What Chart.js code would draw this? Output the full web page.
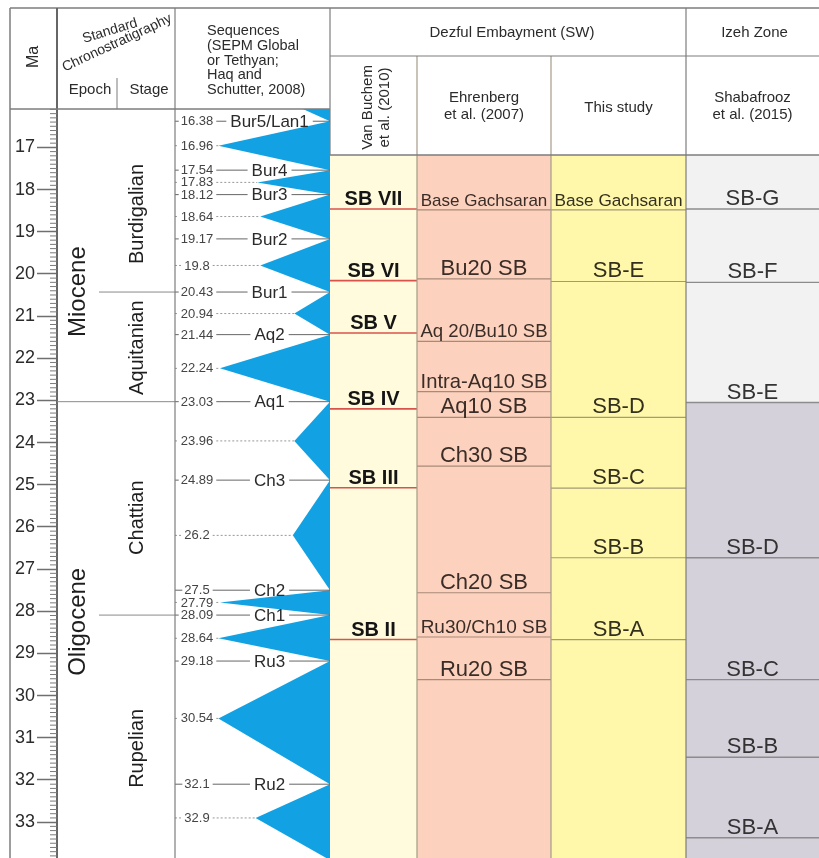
<!DOCTYPE html>
<html>
<head>
<meta charset="utf-8">
<title>Oligocene–Miocene sequence boundaries</title>
<script src="https://cdn.jsdelivr.net/npm/chart.js@4.4.1/dist/chart.umd.min.js"></script>
<style>
    html, body { margin: 0; padding: 0; background: #fff; overflow: hidden; }
    #chart { display: block; }
</style>
</head>
<body>
<canvas id="chart" width="819" height="858"></canvas>
<script>
// Age range (Ma) of the vertical axis
const maTop = 16.09;
const maBase = 33.85;
const maTicks = [17, 18, 19, 20, 21, 22, 23, 24, 25, 26, 27, 28, 29, 30, 31, 32, 33];

// Standard chronostratigraphy
const epochNames = ["Miocene", "Oligocene"];
const epochBases = [23.03, 33.9];
const epochLabelAt = [20.42, 28.25];

const stageNames = ["Burdigalian", "Aquitanian", "Chattian", "Rupelian"];
const stageBases = [20.43, 23.03, 28.09, 33.9];
const stageLabelAt = [18.58, 21.75, 25.78, 31.25];

// SEPM sequence boundaries (Haq and Schutter, 2008)
const sbAges = [16.38, 17.54, 18.12, 19.17, 20.43, 21.44, 23.03, 24.89, 27.5, 28.09, 29.18, 32.1];
const sbNames = ["Bur5/Lan1", "Bur4", "Bur3", "Bur2", "Bur1", "Aq2", "Aq1", "Ch3", "Ch2", "Ch1", "Ru3", "Ru2"];

// T-R cycles: upper boundary, maximum flooding, lower boundary, wedge amplitude (0..1)
const cycleTops = [15.6, 16.38, 17.54, 18.12, 19.17, 20.43, 21.44, 23.03, 24.89, 27.5, 28.09, 29.18, 32.1];
const cycleMfs = [16.0, 16.96, 17.83, 18.64, 19.8, 20.94, 22.24, 23.96, 26.2, 27.79, 28.64, 30.54, 32.9];
const cycleBases = [16.38, 17.54, 18.12, 19.17, 20.43, 21.44, 23.03, 24.89, 27.5, 28.09, 29.18, 32.1, 33.9];
const cycleAmplitudes = [0.23, 0.72, 0.47, 0.45, 0.45, 0.23, 0.71, 0.23, 0.24, 0.71, 0.72, 0.72, 0.48];

// Regional schemes (top of each column = 17.18 Ma)
const columnTop = 17.18;

const vanBuchemAges = [18.46, 20.16, 21.40, 23.20, 25.07, 28.67];
const vanBuchemLabels = ["SB VII", "SB VI", "SB V", "SB IV", "SB III", "SB II"];

const ehrenbergAges = [18.48, 20.12, 21.60, 22.79, 23.40, 24.56, 27.56, 28.61, 29.62];
const ehrenbergLabels = ["Base Gachsaran", "Bu20 SB", "Aq 20/Bu10 SB", "Intra-Aq10 SB", "Aq10 SB",
    "Ch30 SB", "Ch20 SB", "Ru30/Ch10 SB", "Ru20 SB"];

const thisStudyAges = [18.48, 20.18, 23.40, 25.08, 26.73, 28.67];
const thisStudyLabels = ["Base Gachsaran", "SB-E", "SB-D", "SB-C", "SB-B", "SB-A"];

const shabafroozAges = [18.46, 20.20, 23.05, 26.73, 29.62, 31.46, 33.37];
const shabafroozLabels = ["SB-G", "SB-F", "SB-E", "SB-D", "SB-C", "SB-B", "SB-A"];
const shabafroozShadeFrom = 23.05;

// column layout along x (units = px from the Ma axis)
const cols = {
    chrono: [0, 118],
    seq: [118, 273],
    vb: [273, 360],
    eh: [360, 494],
    ts: [494, 629],
    sh: [629, 762]
};
const stageLineStart = 42;

const FONT = "'Liberation Sans', Arial, Helvetica, sans-serif";
const BLUE = "#12a2e4";
const GRID = "#7d7d7d";

function polygon(points, color, order) {
    return {
        data: points,
        showLine: true,
        borderWidth: 0,
        backgroundColor: color,
        fill: "shape",
        pointRadius: 0,
        order
    };
}

function hline(x0, x1, age, color, width) {
    return {
        data: [{ x: x0, y: age }, { x: x1, y: age }],
        borderColor: color,
        borderWidth: width,
        fill: false,
        pointRadius: 0,
        order: 1
    };
}

function rect(col, top, base, color) {
    return polygon([
        { x: col[0], y: top }, { x: col[1], y: top },
        { x: col[1], y: base }, { x: col[0], y: base }
    ], color, 4);
}

const datasets = [];

// column fills
datasets.push(rect(cols.vb, columnTop, maBase, "#fffbdc"));
datasets.push(rect(cols.eh, columnTop, maBase, "#fcd2be"));
datasets.push(rect(cols.ts, columnTop, maBase, "#fff7aa"));
datasets.push(rect(cols.sh, columnTop, shabafroozShadeFrom, "#f2f2f2"));
datasets.push(rect(cols.sh, shabafroozShadeFrom, maBase, "#d5d1da"));

// blue T-R wedges, base on the right edge of the sequence column
const seqWidth = cols.seq[1] - cols.seq[0];
cycleMfs.forEach((mfs, i) => {
    datasets.push(polygon([
        { x: cols.seq[1], y: cycleTops[i] },
        { x: cols.seq[1] - cycleAmplitudes[i] * seqWidth, y: mfs },
        { x: cols.seq[1], y: cycleBases[i] }
    ], BLUE, 3));
});

// boundaries in the regional columns
vanBuchemAges.forEach(a => datasets.push(hline(cols.vb[0], cols.vb[1], a, "#d8534b", 1.6)));
ehrenbergAges.forEach(a => datasets.push(hline(cols.eh[0], cols.eh[1], a, "#a98a78", 1.2)));
thisStudyAges.forEach(a => datasets.push(hline(cols.ts[0], cols.ts[1], a, "#a39a78", 1.2)));
shabafroozAges.forEach(a => datasets.push(hline(cols.sh[0], cols.sh[1], a, "#8c8c8c", 1.4)));

// epoch and stage boundaries
stageBases.forEach(a => {
    const isEpoch = epochBases.includes(a);
    datasets.push(hline(isEpoch ? cols.chrono[0] : stageLineStart, cols.chrono[1], a, "#8a8a8a", 1));
});

function strokeLine(ctx, x0, y0, x1, y1, color, width, dash) {
    if (x1 <= x0 && y0 === y1) return;
    ctx.save();
    ctx.beginPath();
    ctx.strokeStyle = color;
    ctx.lineWidth = width;
    ctx.setLineDash(dash || []);
    ctx.moveTo(x0, y0);
    ctx.lineTo(x1, y1);
    ctx.stroke();
    ctx.restore();
}

function drawText(ctx, str, x, y, font, opts = {}) {
    ctx.save();
    ctx.font = font;
    ctx.fillStyle = opts.color || "#2b2b2b";
    ctx.textAlign = opts.align || "center";
    ctx.textBaseline = opts.baseline || "middle";
    ctx.translate(x, y);
    if (opts.angle) ctx.rotate(opts.angle);
    ctx.fillText(str, 0, 0);
    ctx.restore();
}

function fitFont(ctx, str, size, maxWidth, weight) {
    ctx.font = `${weight} ${size}px ${FONT}`;
    const w = ctx.measureText(str).width;
    const s = w > maxWidth ? size * maxWidth / w : size;
    return `${weight} ${s.toFixed(1)}px ${FONT}`;
}

const stratTable = {
    id: "stratTable",

    beforeDatasetsDraw(chart) {
        const ctx = chart.ctx;
        const { x, y } = chart.scales;
        const area = chart.chartArea;

        // minor ticks every 0.1 Ma
        for (let t = Math.ceil(maTop * 10); t <= Math.floor(maBase * 10); t++) {
            if (t % 10 === 0) continue;
            const yy = y.getPixelForValue(t / 10);
            strokeLine(ctx, area.left - 7, yy, area.left, yy, "#7a7a7a", 1);
        }

        // seq / Van Buchem border sits under the wedges
        const xs = x.getPixelForValue(cols.seq[1]);
        strokeLine(ctx, xs, 8, xs, area.bottom, GRID, 1.2);
    },

    afterDatasetsDraw(chart) {
        const ctx = chart.ctx;
        const { x, y } = chart.scales;
        const area = chart.chartArea;
        const px = v => x.getPixelForValue(v);
        const py = v => y.getPixelForValue(v);

        const headTop = 8;
        const headRow = 56;
        const headLeftBottom = area.top;
        const headRightBottom = py(columnTop);

        // chronostratigraphy labels
        epochNames.forEach((name, i) => {
            drawText(ctx, name, px(21), py(epochLabelAt[i]), `24px ${FONT}`, { angle: -Math.PI / 2, color: "#1e1e1e" });
        });
        stageNames.forEach((name, i) => {
            drawText(ctx, name, px(80), py(stageLabelAt[i]), `20px ${FONT}`, { angle: -Math.PI / 2, color: "#1e1e1e" });
        });

        // sequence boundaries and maximum flooding surfaces
        const seqL = px(cols.seq[0]);
        const seqR = px(cols.seq[1]);
        const numX = seqL + 22;
        const nameX = seqL + 0.61 * (seqR - seqL);
        const numFont = `13px ${FONT}`;
        const nameFont = `17px ${FONT}`;

        sbAges.forEach((age, i) => {
            const yy = py(age);
            const num = String(age);
            ctx.font = numFont;
            const nw = ctx.measureText(num).width;
            ctx.font = nameFont;
            const tw = ctx.measureText(sbNames[i]).width;
            strokeLine(ctx, seqL, yy, numX - nw / 2 - 2, yy, "#666", 1);
            drawText(ctx, num, numX, yy + 0.5, numFont, { color: "#444" });
            strokeLine(ctx, numX + nw / 2 + 3, yy, nameX - tw / 2 - 4, yy, "#666", 1);
            drawText(ctx, sbNames[i], nameX, yy + 1, nameFont, { color: "#2b2b2b" });
            strokeLine(ctx, nameX + tw / 2 + 4, yy, seqR, yy, "#666", 1);
        });

        cycleMfs.forEach((age, i) => {
            if (age < maTop || age > maBase) return;
            const yy = py(age);
            const num = String(age);
            ctx.font = numFont;
            const nw = ctx.measureText(num).width;
            const apex = px(cols.seq[1] - cycleAmplitudes[i] * seqWidth);
            strokeLine(ctx, seqL, yy, numX - nw / 2 - 2, yy, "#999", 1, [2, 2]);
            drawText(ctx, num, numX, yy + 0.5, numFont, { color: "#444" });
            strokeLine(ctx, numX + nw / 2 + 3, yy, apex, yy, "#999", 1, [2, 2]);
        });

        // labels in the regional columns, sitting on their boundary
        const columnLabels = (col, ages, labels, size, weight, color) => {
            const cx = (px(col[0]) + px(col[1])) / 2;
            const maxW = px(col[1]) - px(col[0]) - 7;
            ages.forEach((age, i) => {
                const font = fitFont(ctx, labels[i], size, maxW, weight);
                drawText(ctx, labels[i], cx, py(age) - 4, font, { baseline: "alphabetic", color });
            });
        };
        columnLabels(cols.vb, vanBuchemAges, vanBuchemLabels, 20, "bold", "#151515");
        columnLabels(cols.eh, ehrenbergAges, ehrenbergLabels, 22, "normal", "#3a2c26");
        columnLabels(cols.ts, thisStudyAges, thisStudyLabels, 22, "normal", "#33301f");
        columnLabels(cols.sh, shabafroozAges, shabafroozLabels, 22, "normal", "#333");

        // table frame
        const right = chart.width;
        const x57 = area.left;
        const x175 = px(cols.seq[0]);
        const x330 = px(cols.seq[1]);
        const x417 = px(cols.eh[0]);
        const x551 = px(cols.ts[0]);
        const x686 = px(cols.sh[0]);

        strokeLine(ctx, 10, headTop, right, headTop, GRID, 1.5);
        strokeLine(ctx, 10, headTop, 10, area.bottom, GRID, 1.5);
        strokeLine(ctx, x57, headTop, x57, headLeftBottom, "#666", 2);
        strokeLine(ctx, x175, headTop, x175, area.bottom, GRID, 1.2);
        strokeLine(ctx, x417, headRow, x417, area.bottom, "#a39c86", 1.2);
        strokeLine(ctx, x551, headRow, x551, area.bottom, "#a39c86", 1.2);
        strokeLine(ctx, x686, headTop, x686, area.bottom, GRID, 1.2);
        strokeLine(ctx, x330, headRow, right, headRow, GRID, 1.2);
        strokeLine(ctx, 10, headLeftBottom, x330, headLeftBottom, GRID, 1.5);
        strokeLine(ctx, x330, headRightBottom, right, headRightBottom, GRID, 1.5);
        strokeLine(ctx, px(60), 78, px(60), headLeftBottom, GRID, 1);

        // header text
        const hf = `15px ${FONT}`;
        drawText(ctx, "Ma", (10 + x57) / 2, 57, `16px ${FONT}`, { angle: -Math.PI / 2 });
        drawText(ctx, "Standard", x57 + 53, 31, `14px ${FONT}`, { angle: -17 * Math.PI / 180 });
        drawText(ctx, "Chronostratigraphy", x57 + 60, 43, `14px ${FONT}`, { angle: -25 * Math.PI / 180 });
        drawText(ctx, "Epoch", x57 + 33, 90, hf);
        drawText(ctx, "Stage", x57 + 92, 90, hf);

        ["Sequences", "(SEPM Global", "or Tethyan;", "Haq and", "Schutter, 2008)"].forEach((s, i) => {
            drawText(ctx, s, x175 + 32, 31 + i * 14.8, `14.5px ${FONT}`, { align: "left" });
        });

        drawText(ctx, "Dezful Embayment (SW)", (x330 + x686) / 2 + 4, 33, hf);
        drawText(ctx, "Izeh Zone", (x686 + right) / 2 + 2, 33, hf);

        const subMid = (headRow + headRightBottom) / 2;
        drawText(ctx, "Van Buchem", (x330 + x417) / 2 - 6, subMid + 2, hf, { angle: -Math.PI / 2 });
        drawText(ctx, "et al. (2010)", (x330 + x417) / 2 + 11, subMid + 2, hf, { angle: -Math.PI / 2 });
        drawText(ctx, "Ehrenberg", (x417 + x551) / 2, subMid - 8, hf);
        drawText(ctx, "et al. (2007)", (x417 + x551) / 2, subMid + 9, hf);
        drawText(ctx, "This study", (x551 + x686) / 2, subMid + 2, hf);
        drawText(ctx, "Shabafrooz", (x686 + right) / 2, subMid - 8, hf);
        drawText(ctx, "et al. (2015)", (x686 + right) / 2, subMid + 9, hf);
    }
};

new Chart(document.getElementById("chart"), {
    type: "line",
    data: { datasets },
    options: {
        responsive: false,
        animation: false,
        devicePixelRatio: 1,
        events: [],
        layout: { padding: { top: 109, left: 10, right: 0, bottom: 0 } },
        elements: { point: { radius: 0 }, line: { tension: 0 } },
        plugins: {
            legend: { display: false },
            tooltip: { enabled: false }
        },
        scales: {
            x: { type: "linear", display: false, min: 0, max: 762 },
            y: {
                type: "linear",
                reverse: true,
                min: maTop,
                max: maBase,
                afterBuildTicks: (scale) => {
                    scale.ticks = maTicks.map(v => ({ value: v }));
                },
                afterFit: (scale) => {
                    scale.width = 47;
                    scale.paddingTop = 0;
                    scale.paddingBottom = 0;
                },
                ticks: {
                    autoSkip: false,
                    padding: 2,
                    color: "#2b2b2b",
                    font: { family: FONT, size: 18 },
                    callback: (value) => String(value)
                },
                grid: {
                    drawOnChartArea: false,
                    tickLength: 20,
                    tickColor: "#6f6f6f",
                    tickWidth: 1.5
                },
                border: { color: "#666", width: 2 }
            }
        }
    },
    plugins: [stratTable]
});
</script>
</body>
</html>
